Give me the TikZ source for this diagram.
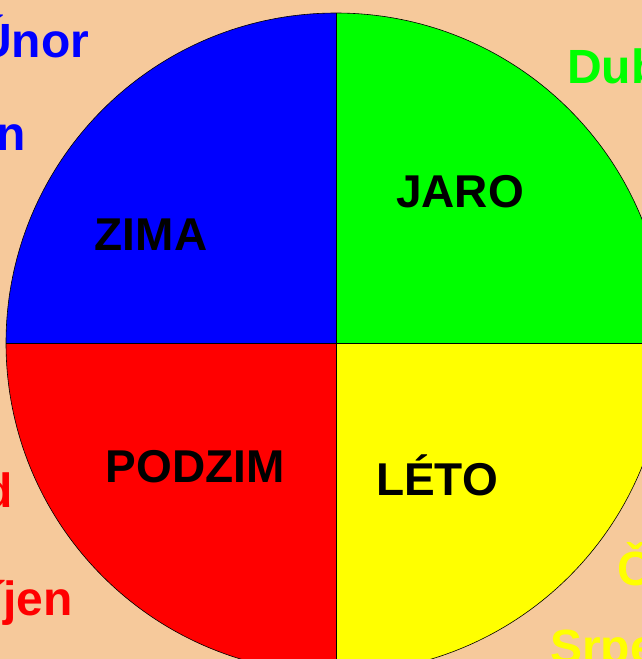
\documentclass[tikz,border=0pt]{standalone}
\usepackage{fontspec}
\setmainfont{Liberation Sans}
\definecolor{bgpeach}{RGB}{246,201,155}
\definecolor{cblue}{RGB}{0,0,255}
\definecolor{cgreen}{RGB}{0,255,0}
\definecolor{cred}{RGB}{255,0,0}
\definecolor{cyellow}{RGB}{255,255,0}
\tikzset{
  season/.style={font=\bfseries\fontsize{46}{52}\selectfont, text=black, inner sep=0pt, anchor=base},
  month/.style={font=\bfseries\fontsize{48}{56}\selectfont, inner sep=0pt},
  sector/.style={draw=black, line width=0.6pt}
}
\begin{document}
\begin{tikzpicture}[x=1pt,y=-1pt]
\useasboundingbox (0,0) rectangle (642,659);
\clip (0,0) rectangle (642,659);
\fill[bgpeach] (0,0) rectangle (642,659);
\coordinate (c) at (336,343);
% sectors (y axis points down, so angles run clockwise on screen)
\fill[cblue]   (c) -- (6,343) arc[start angle=180,end angle=270,radius=330] -- cycle;
\fill[cgreen]  (c) -- (336,13) arc[start angle=270,end angle=360,radius=330] -- cycle;
\fill[cyellow] (c) -- (666,343) arc[start angle=0,end angle=90,radius=330] -- cycle;
\fill[cred]    (c) -- (336,673) arc[start angle=90,end angle=180,radius=330] -- cycle;
\draw[sector] (c) circle[radius=330];
\draw[sector] (336,13) -- (336,673);
\draw[sector] (6,343) -- (666,343);
% season labels
\node[season] (zima) at (151,250) {ZIMA};
\node[season] (jaro) at (460,207) {JARO};
\node[season] (podzim) at (195,482) {PODZIM};
\node[season] (leto) at (437,495) {LÉTO};
% months (partly outside the frame)
\node[month, text=cblue, anchor=base west] (unor) at (-23,57) {Únor};
\node[month, text=cblue, anchor=base east] (leden) at (26,150) {Leden};
\node[month, text=cgreen, anchor=base west] (duben) at (567,83) {Duben};
\node[month, text=cred, anchor=base east] (listopad) at (13,507) {Listopad};
\node[month, text=cred, anchor=base east] (rijen) at (73,615) {Říjen};
\node[month, text=cyellow, anchor=base west] (cerven) at (617,585) {Červen};
\node[month, text=cyellow, anchor=base west] (srpen) at (550,663) {Srpen};
\end{tikzpicture}
\end{document}
